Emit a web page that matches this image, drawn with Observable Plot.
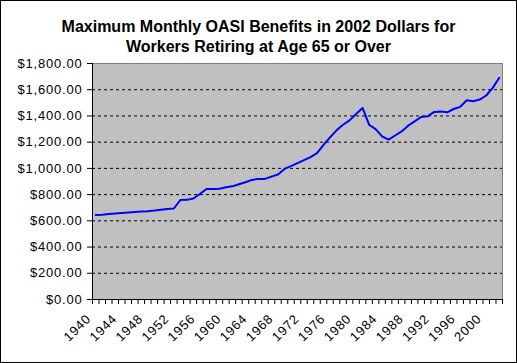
<!DOCTYPE html>
<html><head><meta charset="utf-8">
<script src="https://cdn.jsdelivr.net/npm/d3@7"></script>
<script src="https://cdn.jsdelivr.net/npm/@observablehq/plot@0.6"></script>
<style>
body{margin:0;background:#fff;}
#chart{position:relative;width:517px;height:363px;box-sizing:border-box;border:1px solid #000;font-family:Arial,"Liberation Sans",sans-serif;overflow:hidden;background:#fff;}
#title{position:absolute;left:0;top:16px;width:515px;text-align:center;font-weight:bold;font-size:16px;line-height:20px;color:#000;}
#plot{position:absolute;left:0;top:56px;}
</style></head><body>
<div id="chart"><div id="title">Maximum Monthly OASI Benefits in 2002 Dollars for<br>Workers Retiring at Age 65 or Over</div><div id="plot"></div></div>
<script>
const years = [1940,1941,1942,1943,1944,1945,1946,1947,1948,1949,
  1950,1951,1952,1953,1954,1955,1956,1957,1958,1959,
  1960,1961,1962,1963,1964,1965,1966,1967,1968,1969,
  1970,1971,1972,1973,1974,1975,1976,1977,1978,1979,
  1980,1981,1982,1983,1984,1985,1986,1987,1988,1989,
  1990,1991,1992,1993,1994,1995,1996,1997,1998,1999,
  2000,2001,2002];
const benefits = [645,647,652,656,660,664,668,672,674,678,
  684,690,694,759,760,770,805,843,843,845,
  856,863,879,894,912,920,920,937,953,996,
  1017,1040,1063,1086,1116,1180,1236,1290,1333,1366,
  1415,1461,1333,1300,1244,1220,1251,1282,1326,1359,
  1392,1397,1431,1433,1428,1453,1469,1520,1512,1525,
  1556,1614,1691];
const yTicks = [0,200,400,600,800,1000,1200,1400,1600,1800];
const xLabels = [1940,1944,1948,1952,1956,1960,1964,1968,1972,1976,1980,1984,1988,1992,1996,2000];

const data = years.map((year, i) => ({year, value: benefits[i]}));
const boundaries = years.map(y => y - 0.5).concat([years[years.length - 1] + 0.5]);
const gridValues = yTicks.slice(1, -1);

const chart = Plot.plot({
  width: 515,
  height: 305,
  marginLeft: 91,
  marginRight: 14,
  marginTop: 6,
  marginBottom: 63,
  style: "font-size:13px;font-family:Arial,'Liberation Sans',sans-serif;letter-spacing:0.8px;background:transparent;overflow:visible;color:#000;",
  x: {type: "linear", domain: [boundaries[0], boundaries[boundaries.length - 1]], label: null},
  y: {domain: [yTicks[0], yTicks[yTicks.length - 1]], label: null},
  marks: [
    Plot.frame({fill: "#c0c0c0", stroke: "#808080"}),
    Plot.gridY(gridValues, {stroke: "#000", strokeOpacity: 1, strokeDasharray: "3,3"}),
    Plot.ruleX([boundaries[0]], {stroke: "#000"}),
    Plot.ruleY([yTicks[0]], {stroke: "#000"}),
    Plot.axisY(yTicks, {tickFormat: d3.format("$,.2f"), tickSize: 5, tickPadding: 5, stroke: "#000", fill: "#000", label: null}),
    Plot.axisX(boundaries, {tickFormat: () => "", tickSize: 5, stroke: "#000", label: null}),
    Plot.axisX(xLabels, {tickFormat: d => String(d), tickSize: 0, tickRotate: -45, tickPadding: 8, dx: -7, dy: 9, fill: "#000", label: null}),
    Plot.line(data, {x: "year", y: "value", stroke: "#0000ff", strokeWidth: 2})
  ]
});
document.getElementById("plot").appendChild(chart);
</script>
</body></html>
